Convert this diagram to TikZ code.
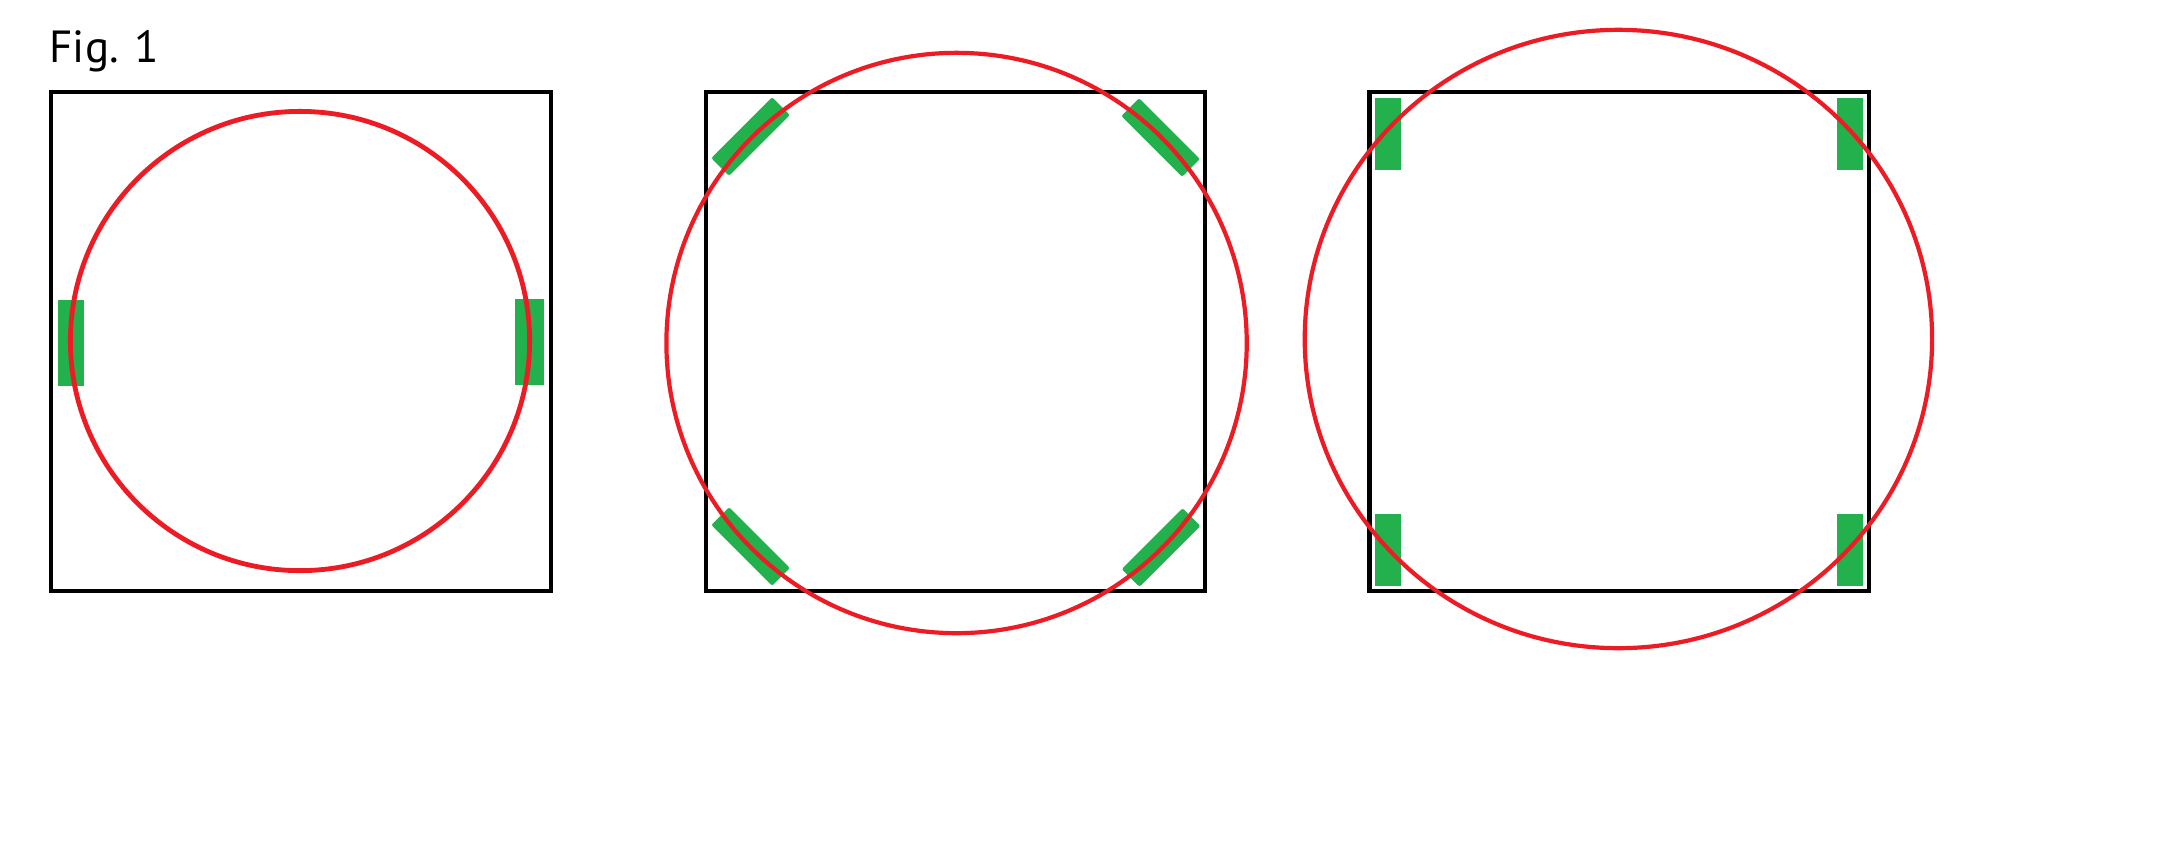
\documentclass[tikz,border=0pt]{standalone}
\usepackage{fontspec}
\newfontfamily\figfont{PT Sans}
\usetikzlibrary{positioning, shapes.geometric}

\definecolor{vermelho}{RGB}{237,28,36}
\definecolor{verde}{RGB}{34,177,76}

\begin{document}
\begin{tikzpicture}[
    x=0.01cm, y=-0.01cm,
    caixa/.style={rectangle, draw=black, line width=0.042cm, minimum size=4.99cm, inner sep=0pt},
    anel/.style={draw=vermelho, line width=0.042cm, inner sep=0pt},
    sapata/.style={rectangle, fill=verde, inner sep=0pt, minimum width=0.26cm, minimum height=0.85cm},
    sapatad/.style={sapata, rounded corners=0.02cm, minimum width=0.25cm, minimum height=0.86cm},
    titulo/.style={anchor=base west, inner sep=0pt, font=\figfont\fontsize{12.8}{15}\selectfont}
]
\fill[white] (0,0) rectangle (2178,857);
\useasboundingbox (0,0) rectangle (2178,857);

% Titulo
\node[titulo] (fig) at (49,62.3) {Fig. 1};

% Caixas
\node[caixa] (caixa1) at (301,341.5) {};
\node[caixa, right=1.51cm of caixa1] (caixa2) {};
\node[caixa, right=1.6cm of caixa2] (caixa3) {};

% Sapatas
\node[sapata] (sap1a) at ([shift={(-230,1.5)}]caixa1.center) {};
\node[sapata, minimum width=0.29cm, minimum height=0.86cm] (sap1b) at ([shift={(228.5,0.5)}]caixa1.center) {};

\node[sapatad, rotate=-45] (sap2a) at ([shift={(-205,-205)}]caixa2.center) {};
\node[sapatad, rotate=45] (sap2b) at ([shift={(205,-204)}]caixa2.center) {};
\node[sapatad, rotate=45] (sap2c) at ([shift={(-205,205)}]caixa2.center) {};
\node[sapatad, rotate=-45] (sap2d) at ([shift={(205.5,206)}]caixa2.center) {};

\node[sapata, minimum height=0.72cm] (sap3a) at ([shift={(-231,-207.5)}]caixa3.center) {};
\node[sapata, minimum height=0.72cm] (sap3b) at ([shift={(231,-207.5)}]caixa3.center) {};
\node[sapata, minimum height=0.72cm] (sap3c) at ([shift={(-231,208.5)}]caixa3.center) {};
\node[sapata, minimum height=0.72cm] (sap3d) at ([shift={(231,208.5)}]caixa3.center) {};

% Aneis
\node[anel, circle, minimum size=4.59cm, line width=0.048cm] (anel1) at ([shift={(-1,-0.5)}]caixa1.center) {};
\node[anel, circle, minimum size=5.8cm] (anel2) at ([shift={(1,1.5)}]caixa2.center) {};
\node[anel, ellipse, minimum width=6.27cm, minimum height=6.18cm] (anel3) at ([shift={(-0.75,-2.5)}]caixa3.center) {};

\end{tikzpicture}
\end{document}
